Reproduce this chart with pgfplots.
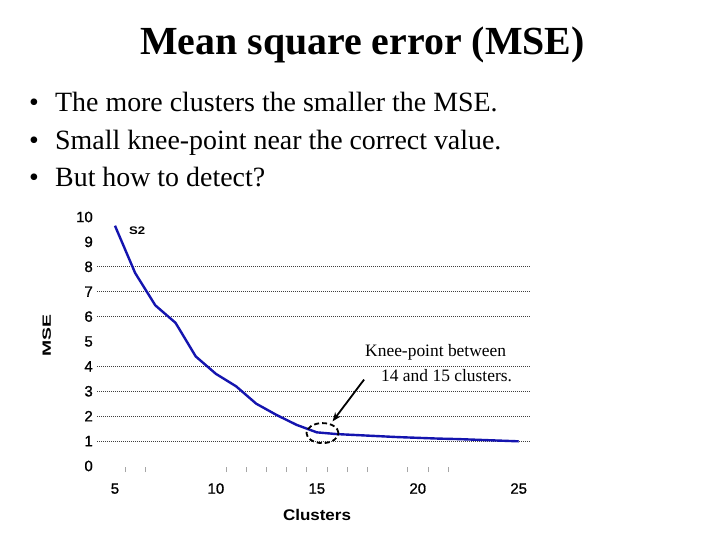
\documentclass[border=0pt]{standalone}
\usepackage{pgfplots}
\pgfplotsset{compat=1.18}
\usepackage{pgfplotstable}
\usetikzlibrary{arrows.meta}
\usepackage{fontspec}
\setmainfont{Liberation Serif}
\newfontfamily\arial{Liberation Sans}
\newfontfamily\arialtick[FakeBold=1]{Liberation Sans}
\definecolor{curveblue}{RGB}{20,20,175}

\pgfplotstableread{
k mse
5 9.65
6 7.75
7 6.45
8 5.75
9 4.40
10 3.70
11 3.20
12 2.50
13 2.05
14 1.65
15 1.35
16 1.28
17 1.24
18 1.20
19 1.16
20 1.13
21 1.10
22 1.08
23 1.05
24 1.02
25 0.99
}\msedata

\begin{document}
\begin{tikzpicture}[x=1bp,y=1bp]
\useasboundingbox[fill=white] (0,0) rectangle (720,540);

% slide text
\node[anchor=base, inner sep=0, font=\bfseries\fontsize{40}{40}\selectfont] at (362.5,485.7) {Mean square error (MSE)};
\begin{scope}[every node/.style={anchor=base west, inner sep=0, font=\fontsize{28}{28}\selectfont}]
  \node at (29,428.3) {•};  \node at (55,428.3) {The more clusters the smaller the MSE.};
  \node at (29,390.8) {•};  \node at (55,390.8) {Small knee-point near the correct value.};
  \node at (29,353.3) {•};  \node at (55,353.3) {But how to detect?};
\end{scope}

\begin{axis}[
    at={(96.8bp,67.8bp)}, anchor=south west,
    scale only axis, width=433bp, height=255.2bp,
    xmin=4.1, xmax=25.55, ymin=-0.25, ymax=10,
    axis line style={draw=none},
    xtick pos=lower, ytick pos=left, tick align=inside,
    xtick={5,10,15,20,25}, ytick={0,1,...,10},
    major tick length=0,
    extra x ticks={5.5,6.5,10.5,11.5,12.5,13.5,14.5,15.5,16.5,17.5,19.5,20.5,21.5},
    extra x tick labels={},
    extra x tick style={major tick length=5bp, tick style={gray!70, line width=0.6bp}},
    extra y ticks={1,2,3,4,6,7,8},
    extra y tick labels={},
    extra y tick style={grid=major, major grid style={black!75, line width=0.6bp, dash pattern=on 1bp off 1bp}},
    tick label style={font=\arialtick\fontsize{15}{15}\selectfont},
    xticklabel style={anchor=base, yshift=-21.5bp},
    yticklabel style={xshift=-0.5bp},
    /pgf/number format/assume math mode=true,
    clip=false,
  ]
  \addplot[curveblue, line width=2.4bp, line join=round] table[x=k, y=mse] {\msedata};
  \node[font=\arial\bfseries\fontsize{11}{11}\selectfont, xscale=1.2] at (axis cs:6.1,9.45) {S2};
  \draw[black, line width=1.8bp, dash pattern=on 5bp off 3bp] (axis cs:15.28,1.32) ellipse [x radius=16bp, y radius=10bp];
  \draw[black, line width=1.8bp, -{Stealth[length=9bp, width=7bp]}] (axis cs:17.34,3.47) -- (axis cs:15.78,1.79);
\end{axis}

% axis titles
\node[rotate=90, font=\arial\bfseries\fontsize{12}{12}\selectfont] at (46.7,204) {\scalebox{1.62}[1]{MSE}};
\node[font=\arial\bfseries\fontsize{15.5}{15.5}\selectfont] at (317,25) {\scalebox{1.1}[1]{Clusters}};

% annotation
\node[anchor=base west, inner sep=0, font=\fontsize{17.5}{17.5}\selectfont] at (365,183.3) {Knee-point between};
\node[anchor=base west, inner sep=0, font=\fontsize{17.5}{17.5}\selectfont] at (381,158.3) {14 and 15 clusters.};
\end{tikzpicture}
\end{document}
